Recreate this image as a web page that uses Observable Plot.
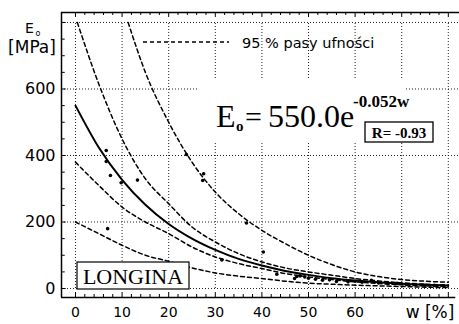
<!DOCTYPE html>
<html><head><meta charset="utf-8">
<script src="https://cdn.jsdelivr.net/npm/d3@7"></script>
<script src="https://cdn.jsdelivr.net/npm/@observablehq/plot@0.6"></script>
<style>body{margin:0;background:#fff} svg{display:block}</style>
</head><body><div id="chart"></div>
<script>
// ---- data ----
const wSamples = [0,5,10,15,20,25,30,35,40,45,50,55,60,65,70,75,80];
const fitE     = [550,424,327,252,194,150,116,89,69,53,41,31,24,19,14,11,9];
const lowConfE = [380,310,245,200,165,125,95,75,60,45,35,27,20,15,11,8,6];
const lowPredE = [200,165,130,100,82,62,47,37,30,22,16,13,10,8,6,4,3];
const upConfW  = [0.4,5,10,15,20,25,30,35,40,45,50,55,60,65,70,75,80];
const upConfE  = [800,615,450,330,255,185,140,105,80,62,50,40,30,23,17,13,10];
const upPredW  = [11.3,15,20,25,30,35,40,45,50,55,60,65,70,75,80];
const upPredE  = [800,650,500,380,290,225,175,135,100,72,50,36,27,22,19];
const pointsW  = [6.6,6.6,7.5,9.8,13.3,6.9,23.8,27.5,27.3,31.4,36.7,40.3,43.2,47.0,47.5,48.2,49.2,50.0,51.5,53.0,54.5,56.0,58.5,60.0,61.5,63.5,65.0,67.0,69.0,71.0,73.0,75.0,77.0,79.0];
const pointsE  = [415,382,340,318,326,180,403,345,325,86,197,110,43,30,36,38,35,31,28,25,26,21,20,22,19,25,17,15,16,12,11,10,9,8];
const xTickLabels = [0,10,20,30,40,50,60];
const yTickLabels = [0,200,400,600];
const gridX = [0,10,20,30,40,50,60,70,80];
const gridY = [0,200,400,600,800];

const toRows = (ws, es) => ws.map((w, i) => ({w, E: es[i]}));
const fit = toRows(wSamples, fitE);
const lowConf = toRows(wSamples, lowConfE);
const lowPred = toRows(wSamples, lowPredE);
const upConf = toRows(upConfW, upConfE);
const upPred = toRows(upPredW, upPredE);
const points = toRows(pointsW, pointsE);

const xMin = -3, xMax = 82.4, yMin = -27, yMax = 830;
const minorX = d3.range(0, 81, 2);
const minorY = d3.range(0, 801, 50);
const dash = "4,3";

const plot = Plot.plot({
  width: 459, height: 324,
  marginLeft: 61, marginRight: 0, marginTop: 12, marginBottom: 27,
  style: {fontFamily: "DejaVu Sans", color: "black", background: "white"},
  x: {domain: [xMin, xMax], label: null},
  y: {domain: [yMin, yMax], label: null},
  marks: [
    Plot.ruleX(gridX, {x: d => d, y1: 0, y2: 800, stroke: "#222", strokeWidth: 1, strokeDasharray: "1,2"}),
    Plot.ruleY(gridY, {y: d => d, x1: xMin, x2: xMax, stroke: "#222", strokeWidth: 1, strokeDasharray: "1,2"}),
    Plot.line(upConf, {x: "w", y: "E", curve: "monotone-x", stroke: "black", strokeWidth: 1.5, strokeDasharray: dash}),
    Plot.line(lowConf, {x: "w", y: "E", curve: "monotone-x", stroke: "black", strokeWidth: 1.5, strokeDasharray: dash}),
    Plot.line(upPred, {x: "w", y: "E", curve: "monotone-x", stroke: "black", strokeWidth: 1.5, strokeDasharray: dash}),
    Plot.line(lowPred, {x: "w", y: "E", curve: "monotone-x", stroke: "black", strokeWidth: 1.5, strokeDasharray: dash}),
    Plot.line(fit, {x: "w", y: "E", curve: "monotone-x", stroke: "black", strokeWidth: 2}),
    Plot.dot(points, {x: "w", y: "E", r: 1.8, fill: "black"}),
    // frame
    Plot.ruleY([yMax], {x1: xMin, x2: xMax, stroke: "black", strokeWidth: 1.5}),
    Plot.ruleY([yMin], {x1: xMin, x2: 81.6, stroke: "black", strokeWidth: 1.5}),
    Plot.ruleX([xMin], {y1: yMin, y2: yMax, stroke: "black", strokeWidth: 1.5}),
    // inward ticks
    Plot.ruleX(minorX, {x: d => d, y1: yMin, y2: d => yMin + (d % 10 === 0 ? 15 : 9), stroke: "black", strokeWidth: 1}),
    Plot.ruleX(minorX, {x: d => d, y1: yMax, y2: d => yMax - (d % 10 === 0 ? 15 : 9), stroke: "black", strokeWidth: 1}),
    Plot.ruleY(minorY, {y: d => d, x1: xMin, x2: d => xMin + (d % 200 === 0 ? 1.0 : 0.8), stroke: "black", strokeWidth: 1}),
    Plot.axisX({ticks: xTickLabels, tickSize: 0, tickPadding: 10, fontSize: 14, label: null, tickFormat: d => String(d)}),
    Plot.axisY({ticks: yTickLabels, tickSize: 0, tickPadding: 6, fontSize: 16, label: null, tickFormat: d => String(d)})
  ]
});
document.getElementById("chart").appendChild(plot);

// ---- annotations ----
const svg = d3.select(plot);
const g = svg.append("g").attr("text-anchor", "start");
// white area behind equation
g.append("rect").attr("x", 197).attr("y", 78).attr("width", 207).attr("height", 63).attr("fill", "white");
// y label
g.append("text").attr("x", 25).attr("y", 33).attr("font-family", "DejaVu Sans").attr("font-size", 14).text("E");
g.append("text").attr("x", 35.5).attr("y", 36).attr("font-family", "DejaVu Sans").attr("font-size", 8).text("o");
g.append("text").attr("x", 32).attr("y", 53).attr("text-anchor", "middle").attr("font-family", "DejaVu Sans").attr("font-size", 17).text("[MPa]");
// x label
g.append("text").attr("x", 430).attr("y", 318).attr("text-anchor", "middle").attr("font-family", "DejaVu Sans").attr("font-size", 17).text("w [%]");
// legend
g.append("line").attr("x1", 143).attr("x2", 229).attr("y1", 42).attr("y2", 42).attr("stroke", "black").attr("stroke-width", 1.5).attr("stroke-dasharray", dash);
g.append("text").attr("x", 242).attr("y", 48).attr("font-family", "DejaVu Sans").attr("font-size", 14.5).text("95 % pasy ufności");
// equation
const serif = "Liberation Serif";
g.append("text").attr("x", 216).attr("y", 127).attr("font-family", serif).attr("font-size", 32).text("E");
g.append("text").attr("x", 236).attr("y", 131).attr("font-family", serif).attr("font-size", 15).attr("font-weight", "bold").text("o");
g.append("text").attr("x", 245).attr("y", 127).attr("font-family", serif).attr("font-size", 30).text("=");
g.append("text").attr("x", 268).attr("y", 127).attr("font-family", serif).attr("font-size", 32).text("550.0e");
g.append("text").attr("x", 353).attr("y", 107).attr("font-family", serif).attr("font-size", 17).attr("font-weight", "bold").text("-0.052w");
g.append("rect").attr("x", 365).attr("y", 122).attr("width", 68).attr("height", 20).attr("fill", "white").attr("stroke", "black").attr("stroke-width", 1.3);
g.append("text").attr("x", 399).attr("y", 138).attr("text-anchor", "middle").attr("font-family", serif).attr("font-size", 15).attr("font-weight", "bold").text("R= -0.93");
// LONGINA box
g.append("rect").attr("x", 77).attr("y", 262).attr("width", 112).attr("height", 27).attr("fill", "white").attr("stroke", "black").attr("stroke-width", 1.2);
g.append("text").attr("x", 133).attr("y", 284).attr("text-anchor", "middle").attr("font-family", serif).attr("font-size", 22).text("LONGINA");
</script>
</body></html>
